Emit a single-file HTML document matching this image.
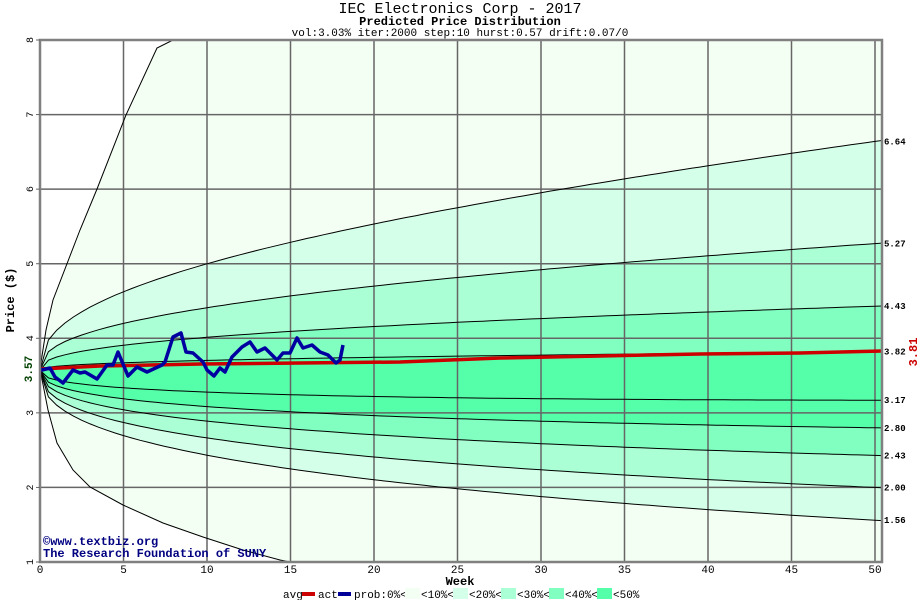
<!DOCTYPE html>
<html><head><meta charset="utf-8"><style>
body{margin:0;background:#fff}
svg{display:block}
text{font-family:"Liberation Mono",monospace}
</style></head><body>
<svg id="s" width="920" height="600" viewBox="0 0 920 600" xmlns="http://www.w3.org/2000/svg">
<rect width="920" height="600" fill="#fff"/>
<text x="460" y="13" font-size="15" text-anchor="middle">IEC Electronics Corp - 2017</text>
<text x="460" y="25" font-size="12" font-weight="bold" text-anchor="middle">Predicted Price Distribution</text>
<text x="460" y="36" font-size="11" text-anchor="middle">vol:3.03% iter:2000 step:10 hurst:0.57 drift:0.07/0</text>
<defs><clipPath id="c"><rect x="40" y="40" width="842" height="522"/></clipPath></defs>
<g id="plot" clip-path="url(#c)"></g>
<rect x="40" y="40" width="842" height="522" fill="none" stroke="#808080" stroke-width="2.5"/>
<g id="lab"></g>
<text x="14" y="300" font-size="12" font-weight="bold" text-anchor="middle" transform="rotate(-90 14 300)">Price ($)</text>
<text x="32" y="369" font-size="11" font-weight="bold" fill="#004000" text-anchor="middle" transform="rotate(-90 32 369)">3.57</text>
<text x="917" y="352" font-size="12" font-weight="bold" fill="#cc0000" text-anchor="middle" transform="rotate(-90 917 352)">3.81</text>
<text x="460" y="585" font-size="12" font-weight="bold" text-anchor="middle">Week</text>
<text x="43" y="545" font-size="12" font-weight="bold" fill="#000080">©www.textbiz.org</text>
<text x="43" y="557" font-size="12" font-weight="bold" fill="#000080">The Research Foundation of SUNY</text>
<g font-size="11">
<text x="283" y="598">avg</text><rect x="302" y="592" width="13" height="4" fill="#cc0000"/>
<text x="318" y="598">act</text><rect x="338" y="592" width="13" height="4" fill="#000099"/>
<text x="354" y="598">prob:0%&lt;</text><rect x="405" y="588" width="15" height="11" fill="#f4fff4"/>
<text x="421" y="598">&lt;10%&lt;</text><rect x="453" y="588" width="15" height="11" fill="#d4ffe8"/>
<text x="469" y="598">&lt;20%&lt;</text><rect x="501" y="588" width="15" height="11" fill="#aaffd4"/>
<text x="517" y="598">&lt;30%&lt;</text><rect x="549" y="588" width="15" height="11" fill="#80ffc0"/>
<text x="565" y="598">&lt;40%&lt;</text><rect x="597" y="588" width="15" height="11" fill="#55ffaa"/>
<text x="613" y="598">&lt;50%</text>
</g>
</svg>
<script>
var NS="http://www.w3.org/2000/svg",P=document.getElementById('plot'),L=document.getElementById('lab');
function X(t){return 40+t*16.7}function Y(p){return 562-(p-1)*74.57}
function el(tag,a,par){var e=document.createElementNS(NS,tag);for(var k in a)e.setAttribute(k,a[k]);(par||P).appendChild(e);return e}
var ts=[];for(var t=0;t<=50.5;t+=0.5)ts.push(t);
function up(end){var c=Math.log(end/3.57);return ts.map(function(t){return [X(t),Y(3.57*Math.exp(c*Math.pow(t/50,0.38)))]})}
function lo(end){var a=(end-3.57-0.25)/Math.pow(50,0.4);return ts.map(function(t){return [X(t),Y(3.57+0.005*t+a*Math.pow(t,0.4))]})}
var oT=[[40,369],[46,330],[53,300],[80,230],[97,189],[126,115],[157,48],[173,40],[882,40]];
var oB=[[40,369],[48,410],[57,443],[73,470],[90,487],[123,505],[163,523],[203,537],[243,550],[280,560],[290,562],[882,562]];
var U=[6.64,5.27,4.43,3.82].map(up),D=[1.56,2.00,2.43,2.80,3.17].map(lo);
function pts(a){return a.map(function(p){return p[0].toFixed(1)+','+p[1].toFixed(1)}).join(' ')}
function band(a,b,col){el('polygon',{points:pts(a.concat(b.slice().reverse())),fill:col})}
band(oT.concat([[882,562]]),oB,'#f4fff4');
band(U[0],D[0],'#d4ffe8');band(U[1],D[1],'#aaffd4');band(U[2],D[2],'#80ffc0');band(U[3],D[3],'#55ffaa');
for(var i=1;i<=10;i++)el('line',{x1:X(i*5),x2:X(i*5),y1:40,y2:562,stroke:'#666',"stroke-width":1.5});
for(var p=2;p<=7;p++)el('line',{x1:40,x2:882,y1:Y(p),y2:Y(p),stroke:'#666',"stroke-width":1.5});
[oT.slice(0,8),oB.slice(0,11)].concat(U,D).forEach(function(c){el('polyline',{points:pts(c),fill:'none',stroke:'#000',"stroke-width":1})});
el('polyline',{points:"40,369 100,366 200,364 300,363 400,362 500,358 600,356 700,354 800,353 882,351",fill:'none',stroke:'#cc0000',"stroke-width":3.5});
el('polyline',{points:"40,369 42,370 50,368 55,377 63,383 73,370 80,373 85,372 97,379 107,365 113,365 118,352 128,376 137,367 147,372 162,365 165,362 173,337 181,333 186,352 193,353 203,362 207,370 214,376 220,368 225,372 232,357 242,347 250,342 257,352 265,348 277,360 283,353 290,353 297,338 303,348 312,345 320,352 328,355 336,363 340,360 343,345",fill:'none',stroke:'#0000a0',"stroke-width":3.5,"stroke-linejoin":"round"});
for(var p=1;p<=8;p++){var y=Y(p);el('text',{x:33,y:y,"font-size":10,"text-anchor":"middle",transform:'rotate(-90 33 '+y+')'},L).textContent=p;el('line',{x1:36,x2:40,y1:y,y2:y,stroke:'#666'},L)}
for(var i=0;i<=10;i++){var x=X(i*5);el('text',{x:x,y:573,"font-size":11,"text-anchor":"middle"},L).textContent=i*5}
[6.64,5.27,4.43,3.82,3.17,2.80,2.43,2.00,1.56].forEach(function(v){el('text',{x:884,y:Y(v)+3,"font-size":9,"font-weight":"bold"},L).textContent=v.toFixed(2)});
</script>
</body></html>
